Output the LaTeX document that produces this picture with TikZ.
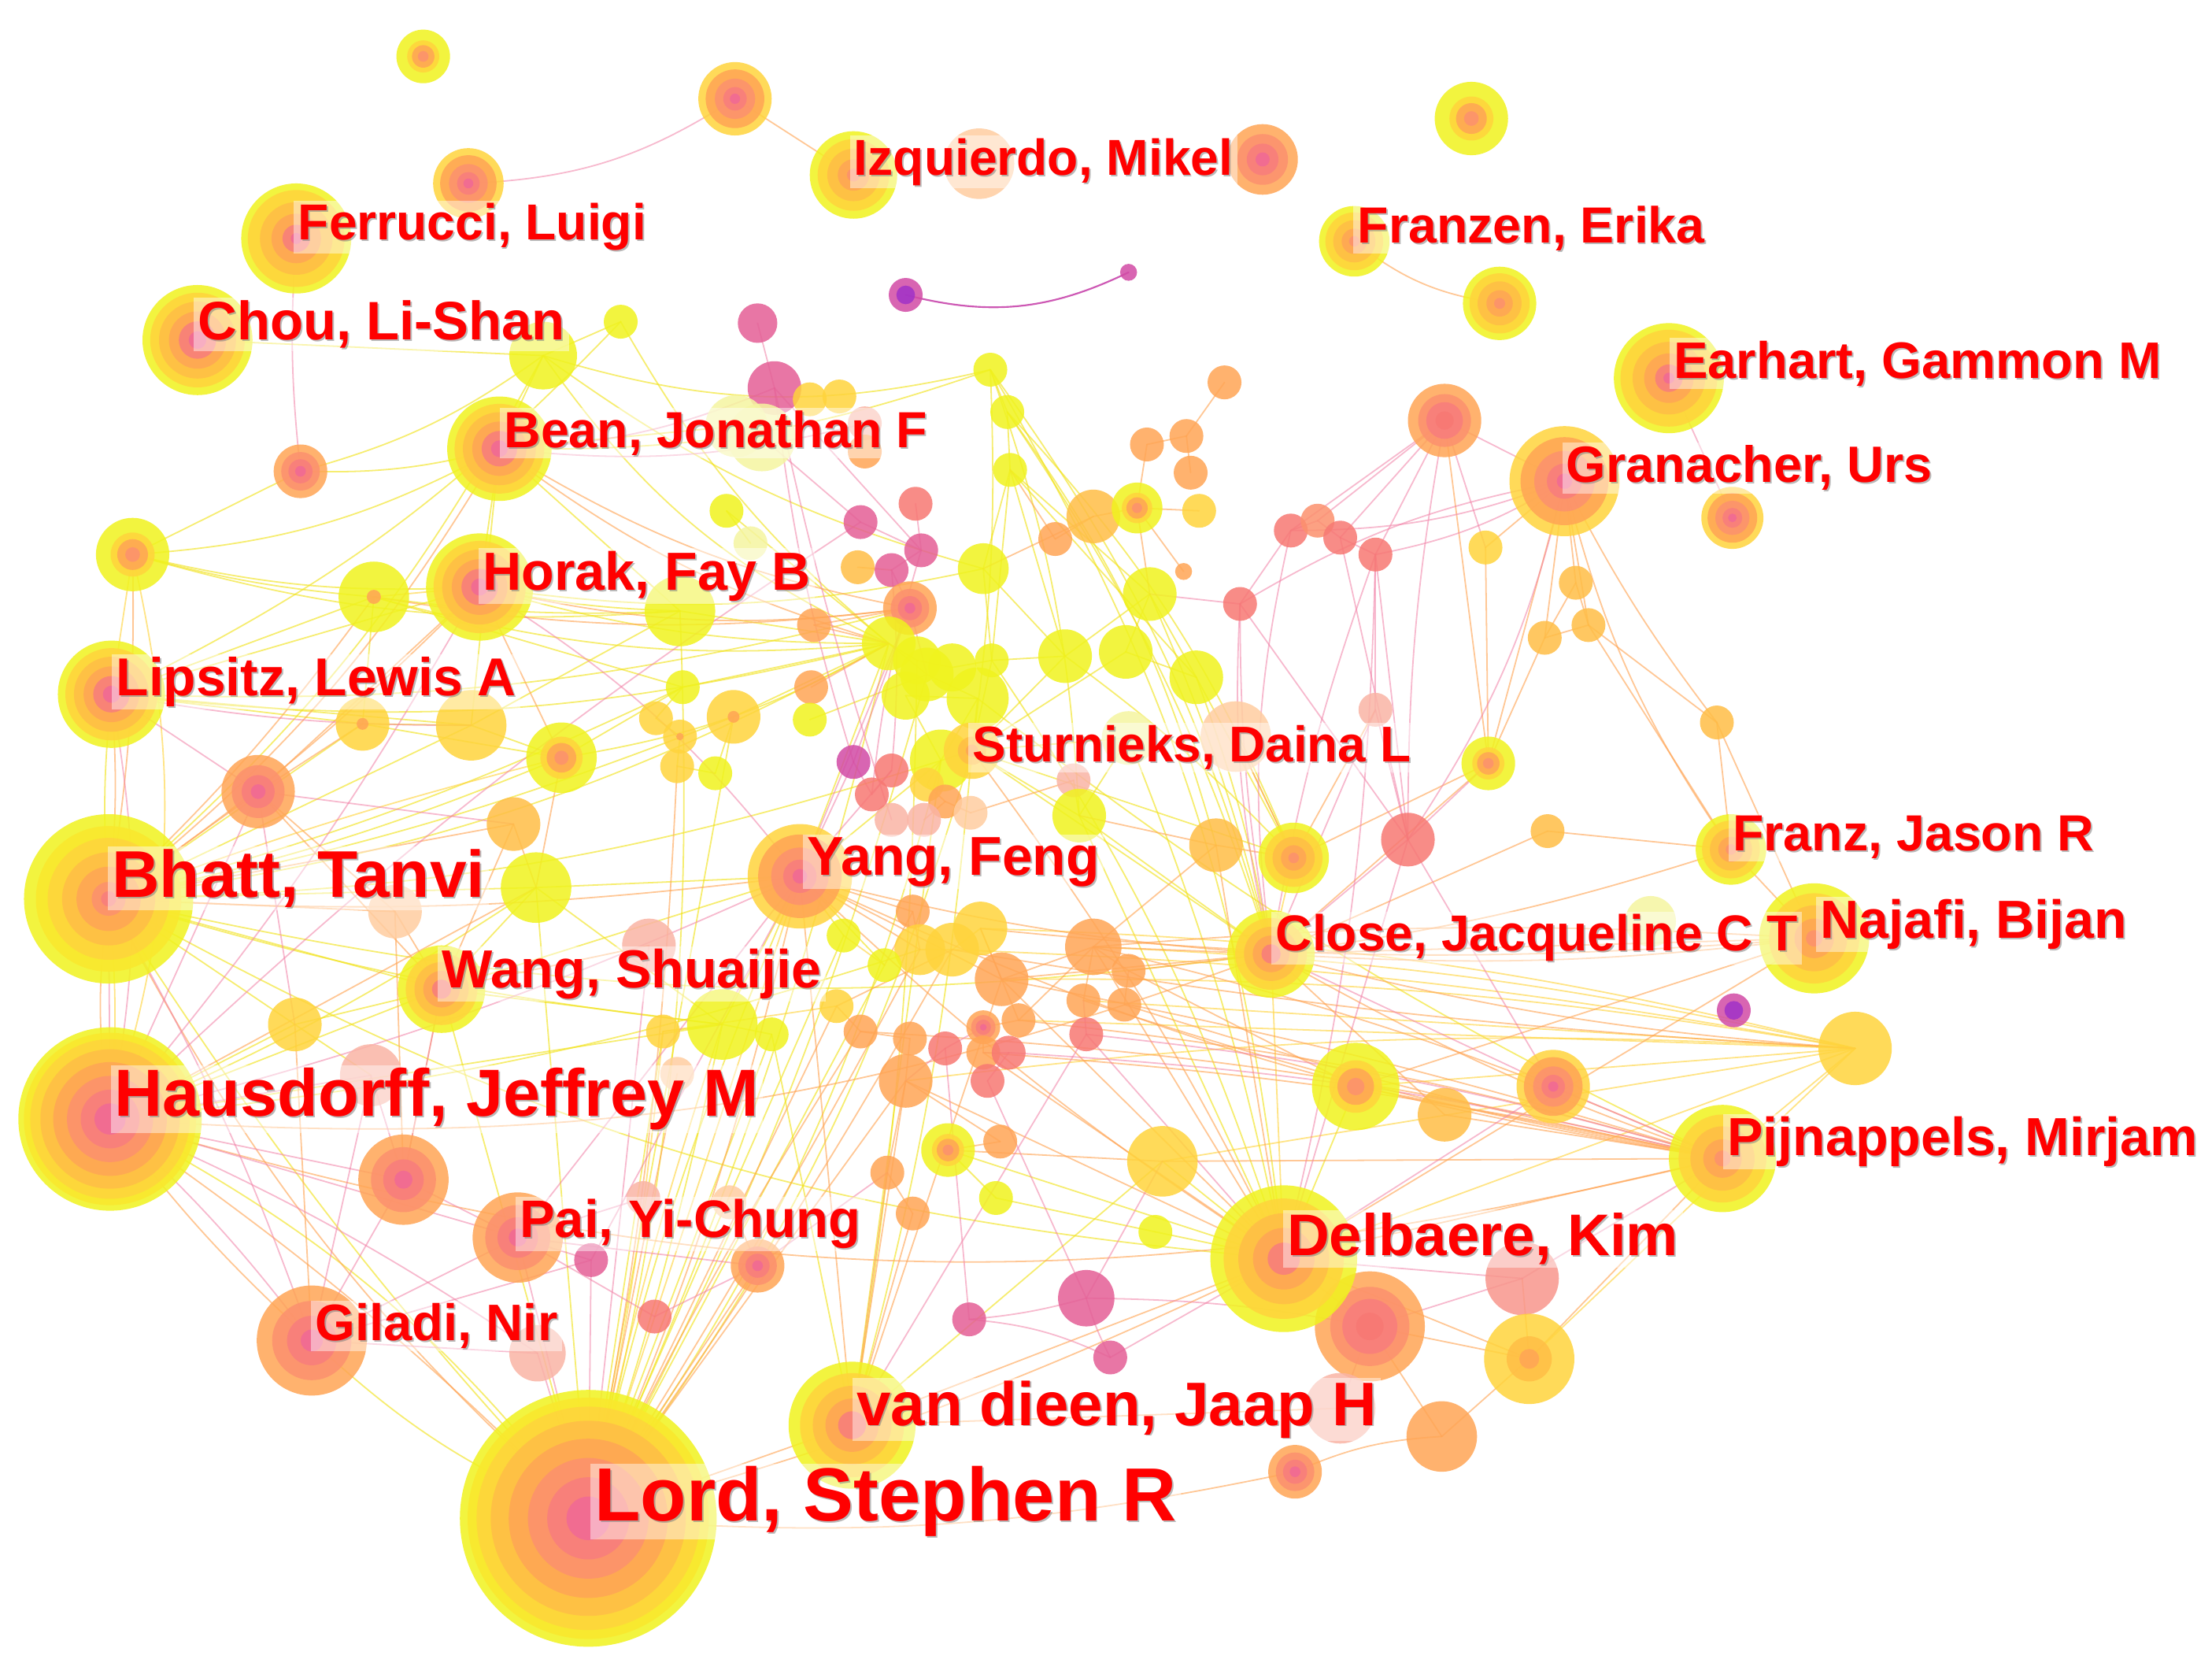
\documentclass[tikz,border=0pt]{standalone}
\usepackage{fontspec}
\setmainfont{Liberation Sans}
\definecolor{cY}{RGB}{240,243,30}
\definecolor{cYG}{RGB}{250,232,45}
\definecolor{cG}{RGB}{255,212,60}
\definecolor{cGO}{RGB}{255,190,70}
\definecolor{cO}{RGB}{255,165,85}
\definecolor{cSO}{RGB}{252,145,110}
\definecolor{cS}{RGB}{248,125,125}
\definecolor{cSL}{RGB}{248,150,140}
\definecolor{cP}{RGB}{240,105,150}
\definecolor{cR}{RGB}{247,120,115}
\definecolor{cPP}{RGB}{228,95,150}
\definecolor{cM}{RGB}{210,75,165}
\definecolor{cV}{RGB}{160,50,200}
\definecolor{cLS}{RGB}{250,180,165}
\definecolor{cLY}{RGB}{245,245,160}
\definecolor{cLO}{RGB}{255,205,160}
\def\ringL{1/cY,.94/cYG,.87/cG,.76/cGO,.62/cO,.47/cSO,.32/cS,.17/cP}
\def\ringB{1/cY,.86/cYG,.72/cG,.55/cGO,.38/cO,.2/cSO,.09/cS}
\def\ringM{1/cY,.86/cG,.7/cGO,.52/cO,.34/cS,.16/cP}
\def\ringF{1/cY,.88/cG,.66/cGO,.45/cO,.25/cS,.1/cP}
\def\ringOP{1/cG,.8/cO,.55/cSO,.32/cS,.14/cP}
\def\ringOO{1/cO,.72/cSO,.45/cS,.2/cP}
\def\ringOR{1/cO,.72/cSO,.5/cS,.25/cR}
\def\ringYO{1/cY,.6/cG,.42/cO,.2/cSO}
\def\ringYG{1/cY,.82/cG,.6/cGO,.36/cO,.15/cSO}
\def\ringYM{1/cY,.82/cG,.62/cGO,.42/cO,.22/cS}
\def\ringGY{1/cG,.5/cGO,.22/cO}
\def\ringGd{1/cG,.22/cO}
\def\ringYd{1/cY,.2/cO}
\def\ringV{1/cM,.55/cV}
\def\ringsY{1/cY}
\def\ringsG{1/cG}
\def\ringsGO{1/cGO}
\def\ringsO{1/cO}
\def\ringsSO{1/cSO}
\def\ringsSL{1/cSL}
\def\ringsR{1/cR}
\def\ringsPP{1/cPP}
\def\ringsM{1/cM}
\def\ringsLS{1/cLS}
\def\ringsLY{1/cLY}
\def\ringsLO{1/cLO}
\def\nodelist{a1/300/40/19/YO,
a2/332/130/25/OP,
a3/521/70/26/OP,
a4/694/116/25/sLO,
a5/895/113/25/OO,
a6/1043/84/26/YO,
a7/1063/215/26/YG,
a8/642/209/12/V,
a9/800/193/6/sM,
a10/440/228/12/sY,
a11/385/252/24/sY,
a12/537/229/14/sPP,
a13/549/275/19/sPP,
a14/574/283/12/sG,
a15/595/281/12/sG,
a16/613/300/12/sLS,
a17/613/320/12/sO,
a18/522/302/22/sLY,
a19/540/310/24/sLY,
a20/213/334/19/OO,
a21/94/393/26/YO,
a22/265/423/25/Yd,
a23/482/433/25/sY,
a24/515/362/12/sY,
a25/532/385/12/sLY,
a26/610/370/12/sPP,
a27/649/357/12/sR,
a28/653/390/12/sPP,
a29/608/402/12/sGO,
a30/632/404/12/sPP,
a31/645/431/19/OO,
a32/577/443/12/sO,
a33/702/262/12/sY,
a34/714/292/12/sY,
a35/716/333/12/sY,
a36/697/403/18/sY,
a37/748/382/12/sO,
a38/775/366/19/sGO,
a39/806/360/18/YO,
a40/850/362/12/sG,
a41/813/315/12/sO,
a42/841/309/12/sO,
a43/844/335/12/sO,
a44/868/271/12/sO,
a45/839/405/6/sO,
a46/815/421/19/sY,
a47/755/465/19/sY,
a48/798/462/19/sY,
a49/848/480/19/sY,
a50/1024/298/26/OR,
a51/1228/367/22/OP,
a52/915/376/12/sR,
a53/934/369/12/sSO,
a54/950/381/12/sR,
a55/975/393/12/sR,
a56/879/428/12/sR,
a57/1053/388/12/sG,
a58/1117/413/12/sGO,
a59/1095/452/12/sGO,
a60/1126/443/12/sGO,
a61/975/503/12/sLS,
a62/1055/541/19/YO,
a63/998/595/19/sR,
a64/1097/589/12/sGO,
a65/1217/512/12/sGO,
a66/862/599/19/sGO,
a67/917/608/25/YG,
a68/1170/653/18/sLY,
a69/1229/716/12/V,
a70/1315/743/26/sG,
a71/1101/770/26/OP,
a72/1024/790/19/sGO,
a73/961/770/31/YO,
a74/824/823/25/sG,
a75/1079/906/26/sSL,
a76/971/940/39/OR,
a77/1084/963/32/GY,
a78/950/998/25/sLS,
a79/1022/1018/25/sO,
a80/918/1043/19/OO,
a81/770/920/20/sPP,
a82/687/935/12/sPP,
a83/787/962/12/sPP,
a84/819/873/12/sY,
a85/706/849/12/sY,
a86/672/815/19/YO,
a87/709/809/12/sO,
a88/629/831/12/sO,
a89/647/860/12/sO,
a90/537/897/19/OO,
a91/464/933/12/sR,
a92/419/893/12/sPP,
a93/381/959/20/sLS,
a94/286/836/32/OO,
a95/517/852/12/sLO,
a96/456/849/12/sLS,
b1/183/561/26/OO,
b2/257/513/19/Gd,
b3/334/514/25/sG,
b4/398/537/25/YO,
b5/364/584/19/sGO,
b6/380/629/25/sY,
b7/280/646/19/sLO,
b8/209/726/19/sG,
b9/263/762/22/sLS,
b10/484/487/12/sY,
b11/465/509/12/sG,
b12/482/522/12/Gd,
b13/480/543/12/sG,
b14/507/548/12/sY,
b15/520/508/19/Gd,
b16/575/487/12/sO,
b17/574/510/12/sY,
b18/605/540/12/sM,
b19/632/546/12/sR,
b20/630/456/19/sY,
b21/650/468/17/sY,
b22/657/478/19/sY,
b23/642/493/17/sY,
b24/675/473/17/sY,
b25/693/495/22/sY,
b26/703/468/12/sY,
b27/667/539/22/sY,
b28/657/556/12/sG,
b29/670/568/12/sO,
b30/688/576/12/sLO,
b31/632/581/12/sLS,
b32/655/581/12/sLS,
b33/618/563/12/sR,
b34/761/553/12/sLS,
b35/765/578/19/sY,
b36/647/646/12/sO,
b37/652/673/18/sG,
b38/675/673/19/sG,
b39/695/658/19/sG,
b40/710/694/19/sO,
b41/775/671/20/sO,
b42/768/709/12/sO,
b43/770/733/12/sR,
b44/627/684/12/sY,
b45/598/663/12/sY,
b46/593/713/12/sG,
b47/610/731/12/sO,
b48/645/736/12/sO,
b49/642/766/19/sO,
b50/670/743/12/sR,
b51/697/728/12/OO,
b52/697/746/12/sO,
b53/715/746/12/sR,
b54/700/766/12/sR,
b55/722/723/12/sO,
b56/512/726/25/sY,
b57/470/731/12/sG,
b58/547/733/12/sY,
b59/480/761/12/sLO,
b60/460/670/19/sLS,
b62/800/688/12/sO,
b63/797/712/12/sO,
b64/800/523/19/sLY,
b65/876/522/25/sLO,
sturn/689/532/20/GY,
pai/367/877/32/OO,
giladi/221/950/39/OO,
wang/313/701/31/YM,
yang/567/621/37/OP,
close/901/676/31/YM,
franz/1227/602/25/YG,
najafi/1286/665/39/YG,
pijn/1221/821/38/YG,
delb/910/892/52/YM,
vand/604/1010/45/YM,
izq/605/124/31/YG,
franzen/960/171/25/YG,
earh/1183/268/39/F,
gran/1109/341/39/OP,
ferr/210/169/39/F,
chou/140/241/39/M,
bean/354/318/37/M,
horak/340/416/38/M,
lips/79/492/38/M,
bhatt/77/637/60/B,
haus/78/793/65/L,
lord/417/1076/91/L}
\tikzset{
  ebase/.style={line width=.5pt, draw opacity=.62, line cap=round},
  ey/.style={ebase, draw=cY!85!orange},
  eg/.style={ebase, draw=cG},
  eo/.style={ebase, draw=cO},
  ep/.style={ebase, draw=cP!85, draw opacity=.55},
  em/.style={ebase, draw=cM!80!cV, draw opacity=.9, line width=.6pt},
  lbox/.style={anchor=base west, inner xsep=1.5pt, inner ysep=1pt, fill=white, fill opacity=.45, text opacity=0},
  lshadow/.style={anchor=base west, inner xsep=1.5pt, inner ysep=1pt, text=gray, text opacity=.55},
  ltext/.style={anchor=base west, inner xsep=1.5pt, inner ysep=1pt, text=red}
}
\newcommand\lab[5]{%
  \node[lbox, font=\fontsize{#4}{#4}\selectfont\bfseries] (#1) at (#2-3,#3) {#5};
  \node[lshadow, font=\fontsize{#4}{#4}\selectfont\bfseries] (#1s) at (#2-3+1.1,#3+1.1) {#5};
  \node[ltext, font=\fontsize{#4}{#4}\selectfont\bfseries] (#1t) at (#2-3,#3) {#5};
}
\begin{document}
\begin{tikzpicture}[x=0.5pt,y=-0.5pt]
\useasboundingbox (0,0) rectangle (1568,1186);
\fill[white] (0,0) rectangle (1568,1186);
\foreach \nm/\x/\y/\rr/\tp in \nodelist {\coordinate (\nm) at (\x,\y);}
% ---------- edges ----------
\foreach \ea/\eb/\ek in {a20/a21/0, a20/bean/-8, a11/a20/10, a21/horak/-8, a21/bean/-12, a21/a23/-10, a21/a22/-5, lips/bhatt/-5, lips/b2/0, lips/horak/0, lips/a22/0, lips/a31/-8, lips/b20/-10, lips/b3/0, horak/a23/-5, horak/bean/0, horak/b20/-8, horak/a36/-10, bean/a23/0, bean/a11/0, bean/b3/0, bean/a33/-10, a22/b20/-10, a22/b2/0, a22/a23/-5, a22/b10/0, a11/b20/-15, a11/a33/-15, a11/a36/-10, a10/a11/0, a10/b20/-10, a18/bean/0, bhatt/b2/0, bhatt/b3/0, bhatt/b6/0, bhatt/b8/0, bhatt/wang/0, bhatt/b20/-10, bhatt/b15/-5, bhatt/b56/-5, bhatt/lord/-5, bhatt/b4/-5, bhatt/close/-10, bhatt/delb/-12, bhatt/b10/-5, bhatt/b27/-8, haus/lord/12, haus/b8/0, haus/wang/0, haus/b56/0, haus/b6/-5, haus/b37/-6, giladi/lord/-10, b2/b3/0, b2/b4/0, b3/b4/0, b3/a23/0, b4/b20/-10, b4/b10/0, b6/wang/0, b6/yang/0, b6/lord/0, b6/b56/0, b8/wang/0, b8/b9/0, wang/b56/0, wang/yang/0, wang/lord/0, b56/lord/3, b56/yang/0, b56/b57/0, b56/b58/0, b58/lord/0, yang/lord/-5, yang/b27/0, yang/b20/0, yang/b44/0, yang/b45/0, b15/lord/0, b15/b20/0, b10/b11/0, b11/b12/0, b12/b13/0, b13/b14/0, b14/b15/0, b10/b20/0, b17/b22/0, a24/a25/0, a24/b20/0, a23/b20/0, a33/a34/0, a34/a35/0, a35/a36/0, a33/sturn/5, a33/close/10, a33/b35/8, a34/a67/10, a34/a66/10, a33/delb/12, a34/close/8, a35/a46/0, a35/b26/0, a35/a47/0, a35/a49/0, a36/b26/0, a36/a47/0, a46/a47/0, a46/a48/0, a46/a49/0, a47/b26/0, a48/a49/0, a47/a67/5, a49/a67/0, a49/close/5, a46/close/5, a48/sturn/0, a47/sturn/0, b20/b21/0, b20/b22/0, b21/b24/0, b22/b25/0, b23/b25/0, b24/b26/0, b25/b27/0, b27/sturn/0, b25/sturn/0, b26/sturn/0, b23/b27/0, sturn/b35/0, sturn/a67/0, sturn/close/0, sturn/b64/0, sturn/lord/10, sturn/vand/5, b27/lord/10, b27/vand/0, b35/close/0, a67/b65/0, delb/a73/0, delb/a74/0, delb/a84/0, delb/a86/0, vand/a74/0, a86/a85/0, a85/a84/0, b26/delb/8, b25/pijn/-6, b22/lord/6, b21/vand/4, a23/lord/8, b20/lord/5, b64/delb/5, b35/delb/0, b34/b35/0, b64/b35/0, b44/lord/0, b45/lord/0, b58/vand/0, b57/lord/0, a10/lips/10, a11/bhatt/10, chou/a11/0}
  {\draw[ey] (\ea) to[bend left=\ek] (\eb);}
\foreach \ea/\eb/\ek in {a21/lips/0, a21/haus/15, horak/a22/0, bhatt/haus/5, bhatt/b4/3, b56/lord/-3, b57/lord/3, yang/lord/0, a67/close/0, close/delb/0, a70/b40/-5, a70/b41/-5, a70/a73/0, a70/a74/0, a70/b55/0, a70/b42/0, a70/b49/-5, a70/pijn/0, a70/b39/-6, a70/b38/-4, a70/delb/0, b37/b38/0, b38/b39/0, b44/b45/0, b46/b57/0, a77/a70/0}
  {\draw[eg] (\ea) to[bend left=\ek] (\eb);}
\foreach \ea/\eb/\ek in {a3/izq/0, franzen/a7/-15, a21/bhatt/5, lips/bhatt/5, horak/b1/0, horak/b4/0, horak/a31/-10, horak/bhatt/5, bean/b20/-10, bean/a31/-10, bean/bhatt/10, a22/a31/-8, a22/bhatt/5, bhatt/haus/-8, bhatt/b1/0, bhatt/b5/0, bhatt/b7/0, bhatt/yang/-5, bhatt/lord/-10, haus/giladi/-5, haus/lord/5, haus/b6/0, haus/pijn/-15, haus/close/-12, giladi/b8/0, a94/b7/0, a90/lord/0, a95/a90/0, b1/b2/0, b1/b7/0, b1/wang/0, b4/b6/0, b5/b6/0, b5/wang/0, b7/wang/0, wang/b60/0, wang/a94/0, b59/lord/0, yang/lord/5, yang/b36/0, yang/b37/0, yang/b40/0, yang/close/-5, yang/delb/-5, yang/pijn/-8, yang/vand/0, b16/b20/0, a29/a30/0, a31/a32/0, a32/b20/0, a37/a38/0, a38/a39/0, a39/a40/0, a39/a41/0, a41/a42/0, a42/a43/0, a42/a44/0, a39/a46/0, a38/a36/0, a37/a35/0, a39/a45/0, sturn/delb/5, b35/a66/0, a66/a67/0, close/pijn/-5, close/najafi/-5, close/franz/-5, close/a70/-5, close/b41/0, close/b62/0, close/a72/0, a50/a62/0, gran/a57/0, gran/a58/0, gran/a59/0, gran/a60/0, gran/franz/-10, gran/a65/-5, gran/a62/0, a58/a59/0, a58/a60/0, a59/a60/0, a59/a62/0, a60/a65/0, a60/franz/0, a57/a62/0, a62/close/0, a64/franz/0, a65/franz/0, a65/najafi/0, franz/najafi/0, najafi/close/0, najafi/a73/0, najafi/delb/0, najafi/b41/-4, pijn/delb/0, pijn/a73/0, pijn/a72/0, pijn/b41/-5, pijn/b55/-5, pijn/b40/-3, pijn/a74/0, pijn/a77/0, pijn/b47/-5, pijn/b52/-4, delb/a76/0, delb/a77/0, delb/b40/0, delb/b41/0, delb/b52/0, delb/b49/0, delb/a66/0, delb/vand/0, delb/lord/5, a76/a77/0, a76/a79/0, a75/a77/0, a77/a79/0, a80/a79/10, lord/a80/-8, vand/a78/0, vand/lord/0, vand/b49/0, vand/a88/0, vand/b40/0, vand/a89/0, a86/a87/0, a86/a74/0, a87/b49/0, a88/a89/0, a88/b49/0, b36/b37/0, b39/b40/0, b40/b41/0, b41/b42/0, b46/b47/0, b47/b48/0, b48/b49/0, b51/b52/0, b55/b41/0, b55/b51/0, b62/b63/0, b41/b62/0, b38/b46/0, b39/b55/0, b28/b29/0, b29/b30/0, b32/b29/0, b27/b28/0, b34/b30/0, b36/b44/0, b40/close/0, b39/najafi/-5, b38/a70/-3, b42/pijn/-4, b63/pijn/-3, b49/lord/0, b46/lord/0, b47/lord/-3, b13/lord/4, b37/lord/2, b38/lord/3, b62/a73/0, a62/a67/0, b65/a67/0, a61/a67/0, a64/close/0, a66/b41/0}
  {\draw[eo] (\ea) to[bend left=\ek] (\eb);}
\foreach \ea/\eb/\ek in {ferr/a20/-5, a2/a3/-15, earh/a51/0, lips/haus/10, lips/b1/0, lips/b3/-5, horak/haus/5, horak/yang/10, bean/a13/-10, bean/a16/-10, a12/a13/0, a13/a28/0, a13/b18/-5, a19/a26/0, bhatt/haus/0, bhatt/giladi/5, haus/giladi/5, haus/a94/0, haus/pai/0, haus/b9/0, haus/b1/0, haus/yang/-5, haus/a93/5, giladi/a94/0, giladi/pai/0, giladi/b9/0, giladi/a93/0, giladi/a92/0, a94/pai/0, a94/b9/0, a94/wang/0, pai/lord/0, pai/a92/0, pai/a91/0, pai/a90/0, pai/a96/0, pai/yang/0, a93/lord/0, a92/lord/0, a91/a90/0, a90/a88/0, b1/b5/0, b1/b8/0, b60/lord/0, yang/b18/0, yang/b19/0, yang/a31/0, yang/a92/0, b18/b33/0, b19/b33/0, a26/a28/0, a27/a28/0, a28/a30/0, a30/a31/0, a31/b22/0, a31/b18/0, close/a63/0, close/a71/0, close/a55/5, close/a56/5, close/a61/0, a56/a63/0, a56/a46/0, a56/a52/0, a52/a53/0, a53/a54/0, a54/a55/0, a52/gran/-10, a53/a50/0, a54/a50/0, a55/a50/0, a52/a50/0, a50/gran/0, a50/a63/-5, a50/a57/0, gran/a63/10, gran/a55/10, gran/a56/-10, a62/a63/0, a63/a55/0, a63/a54/0, a61/a55/0, a61/a63/0, pijn/a71/0, pijn/b43/-5, pijn/a75/0, pijn/b53/-5, delb/a75/0, delb/b43/0, a76/a75/0, a76/a78/0, vand/b43/0, a81/a82/5, a81/a83/-5, a82/a83/10, a82/b50/0, a81/a74/0, a81/b54/0, a81/a76/5, a83/delb/0, b42/b43/0, b49/b50/0, b50/b51/0, b52/b53/0, b53/b54/0, a26/haus/-5, a28/b33/-5, a71/a63/0, a71/delb/0, a56/close/-8, a52/close/-10, a63/delb/0, a55/delb/6, a13/b31/-3, a30/b19/5}
  {\draw[ep] (\ea) to[bend left=\ek] (\eb);}
\draw[em] (a8) to[bend left=-20] (a9);
% ---------- nodes ----------
\foreach \nm/\x/\y/\rr/\tp in \nodelist {%
  \expandafter\let\expandafter\rs\csname ring\tp\endcsname
  \foreach \f/\cc in \rs {\fill[fill=\cc, fill opacity=.85] (\x,\y) circle[radius=\rr*\f];}
}
% ---------- labels ----------
\lab{lFerr}{211}{170}{17.9}{Ferrucci, Luigi}
\lab{lChou}{140}{241}{19.2}{Chou, Li-Shan}
\lab{lBean}{357}{317}{18}{Bean, Jonathan F}
\lab{lIzq}{605}{124}{17.9}{Izquierdo, Mikel}
\lab{lFranzen}{962}{172}{18}{Franzen, Erika}
\lab{lEarh}{1186}{268}{18.2}{Earhart, Gammon M}
\lab{lGran}{1110}{342}{18.1}{Granacher, Urs}
\lab{lHorak}{342}{418}{19}{Horak, Fay B}
\lab{lLips}{82}{493}{18.9}{Lipsitz, Lewis A}
\lab{lBhatt}{79}{636}{23.4}{Bhatt, Tanvi}
\lab{lHaus}{81}{791}{23.6}{Hausdorff, Jeffrey M}
\lab{lSturn}{689}{540}{17.8}{Sturnieks, Daina L}
\lab{lYang}{572}{620}{19.4}{Yang, Feng}
\lab{lWang}{313}{700}{19}{Wang, Shuaijie}
\lab{lClose}{904}{674}{17.9}{Close, Jacqueline C T}
\lab{lNajafi}{1290}{665}{19}{Najafi, Bijan}
\lab{lFranz}{1228}{603}{18}{Franz, Jason R}
\lab{lPijn}{1224}{819}{19}{Pijnappels, Mirjam}
\lab{lDelb}{912}{890}{20.8}{Delbaere, Kim}
\lab{lVand}{607}{1010}{21.8}{van dieen, Jaap H}
\lab{lLord}{421}{1078}{26.7}{Lord, Stephen R}
\lab{lPai}{368}{877}{18.7}{Pai, Yi-Chung}
\lab{lGiladi}{223}{950}{18.2}{Giladi, Nir}
\end{tikzpicture}
\end{document}
